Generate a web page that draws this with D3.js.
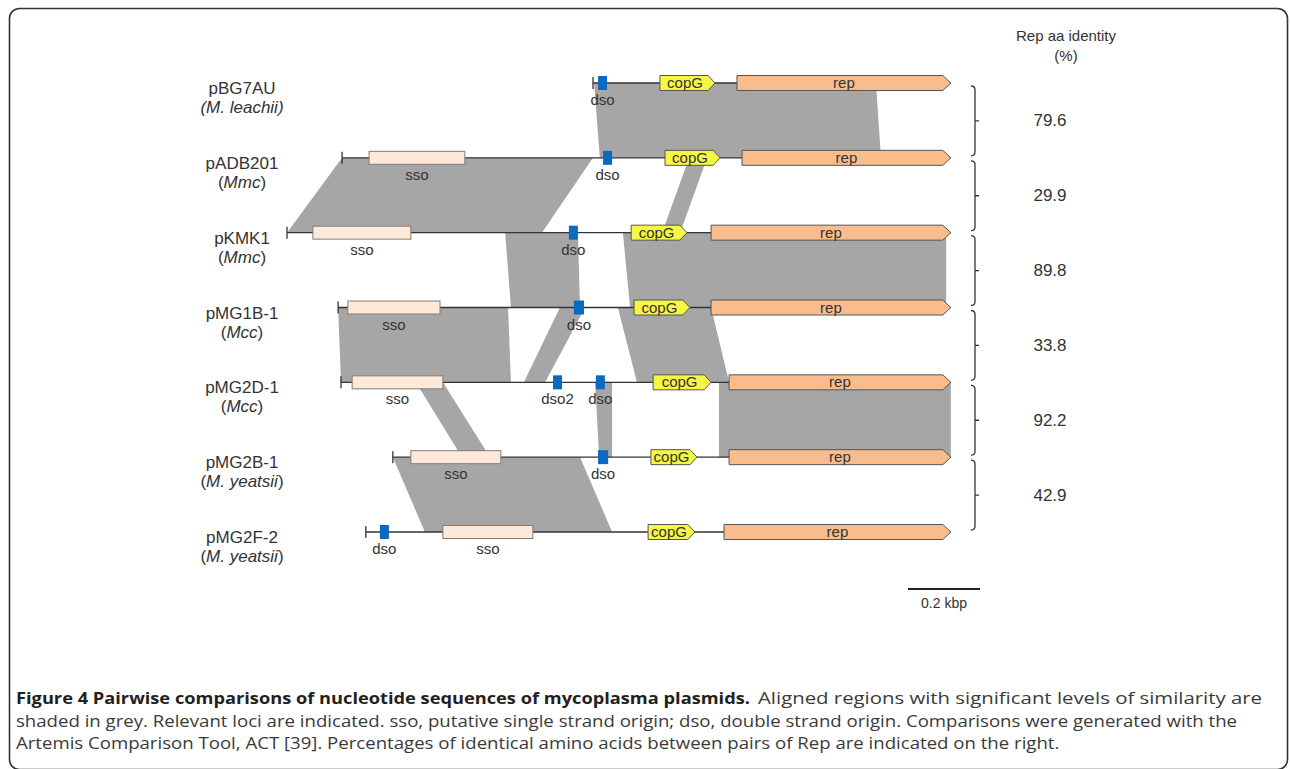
<!DOCTYPE html>
<html>
<head>
<meta charset="utf-8">
<script src="https://cdn.jsdelivr.net/npm/d3@7"></script>
<style>
  html, body { margin: 0; padding: 0; background: #fff; }
  svg { display: block; }
</style>
</head>
<body>
<svg id="chart" width="1290" height="769"></svg>
<script>
// ---------------- DATA (positions in bp) ----------------
const plasmids = ["pBG7AU", "pADB201", "pKMK1", "pMG1B-1", "pMG2D-1", "pMG2B-1", "pMG2F-2"];
const species  = ["M. leachii", "Mmc", "Mmc", "Mcc", "Mcc", "M. yeatsii", "M. yeatsii"];
const trackStart = [850, 153, 0, 142, 150, 294, 219];
const trackEnd   = [1844, 1844, 1844, 1844, 1844, 1844, 1844];
const ssoLoci  = [null, [228, 494], [72, 344], [169, 425], [181, 433], [344, 594], [433, 683]];
const dsoLoci  = [[864, 889], [878, 903], [783, 808], [797, 825], [858, 883], [864, 892], [258, 283]];
const dso2Loci = [null, null, null, null, [739, 764], null, null];
const copGLoci = [[1036, 1189], [1050, 1203], [956, 1111], [964, 1119], [1017, 1178], [1011, 1139], [1003, 1133]];
const repLoci  = [[1250, 1844], [1264, 1844], [1178, 1844], [1178, 1844], [1228, 1844], [1228, 1844], [1214, 1844]];
// aligned regions: [upper track index, upperStart, upperEnd, lowerStart, lowerEnd]
const alignments = [
  [0, 853, 1636, 869, 1650],
  [1, 153, 850, 0, 708],
  [1, 1117, 1167, 1042, 1092],
  [2, 606, 808, 622, 814],
  [2, 933, 1831, 953, 1831],
  [3, 142, 614, 150, 622],
  [3, 758, 828, 658, 717],
  [3, 919, 1178, 972, 1228],
  [4, 358, 433, 486, 564],
  [4, 856, 903, 867, 903],
  [4, 1200, 1844, 1200, 1844],
  [5, 294, 814, 383, 903]
];
const repIdentity = [79.6, 29.9, 89.8, 33.8, 92.2, 42.9];
const scaleBarBp = [1725, 1925];
const scaleBarLabel = "0.2 kbp";
const identityTitle = ["Rep aa identity", "(%)"];
const captionBold = "Figure 4 Pairwise comparisons of nucleotide sequences of mycoplasma plasmids.";
const captionLines = [
  "Aligned regions with significant levels of similarity are",
  "shaded in grey. Relevant loci are indicated. sso, putative single strand origin; dso, double strand origin. Comparisons were generated with the",
  "Artemis Comparison Tool, ACT [39]. Percentages of identical amino acids between pairs of Rep are indicated on the right."
];

// ---------------- DRAW ----------------
const svg = d3.select("#chart");
const FONT = "'Liberation Sans', Arial, sans-serif";
const CAPFONT = "'Open Sans', 'Noto Sans', sans-serif";

const x = d3.scaleLinear().domain([0, 1850]).range([287, 287 + 1850 * 0.36]);
const y = d3.scalePoint().domain(d3.range(plasmids.length)).range([83, 532]);

// frame
svg.append("rect")
  .attr("x", 9.5).attr("y", 8.5).attr("width", 1278).attr("height", 761)
  .attr("rx", 10).attr("ry", 10)
  .attr("fill", "none").attr("stroke", "#333").attr("stroke-width", 1.6);

// aligned regions
svg.append("g").selectAll("path").data(alignments).join("path")
  .attr("d", a => {
    const y0 = y(a[0]), y1 = y(a[0] + 1);
    return `M${x(a[1])},${y0}L${x(a[2])},${y0}L${x(a[4])},${y1}L${x(a[3])},${y1}Z`;
  })
  .attr("fill", "#a6a6a6");

// tracks
const tracks = svg.append("g").selectAll("g").data(plasmids).join("g")
  .attr("transform", (d, i) => `translate(0,${y(i)})`);

tracks.append("line")
  .attr("x1", (d, i) => x(trackStart[i])).attr("x2", (d, i) => x(trackEnd[i]))
  .attr("y1", 0).attr("y2", 0).attr("stroke", "#333").attr("stroke-width", 1.3);
tracks.append("line")
  .attr("x1", (d, i) => x(trackStart[i])).attr("x2", (d, i) => x(trackStart[i]))
  .attr("y1", -6).attr("y2", 6).attr("stroke", "#333").attr("stroke-width", 1.3);

// names
tracks.append("text")
  .attr("x", 242).attr("y", 11).attr("text-anchor", "middle")
  .attr("font-family", FONT).attr("font-size", 17).attr("fill", "#333")
  .text(d => d);
tracks.append("text")
  .attr("x", 242).attr("y", 30).attr("text-anchor", "middle")
  .attr("font-family", FONT).attr("font-size", 17).attr("fill", "#333")
  .each(function (d, i) {
    const t = d3.select(this);
    const italicAll = i === 0;
    t.append("tspan").attr("font-style", italicAll ? "italic" : "normal").text("(");
    t.append("tspan").attr("font-style", "italic").text(species[i]);
    t.append("tspan").attr("font-style", italicAll ? "italic" : "normal").text(")");
  });

function arrow(x0, x1, h, tip) {
  return `M${x0},${-h / 2}L${x1 - tip},${-h / 2}L${x1},0L${x1 - tip},${h / 2}L${x0},${h / 2}Z`;
}

// sso
tracks.filter((d, i) => ssoLoci[i]).each(function (d) {
  const i = plasmids.indexOf(d);
  const g = d3.select(this);
  const [s, e] = ssoLoci[i];
  g.append("rect").attr("x", x(s)).attr("y", -6.5).attr("width", x(e) - x(s)).attr("height", 13)
    .attr("fill", "#fde9d9").attr("stroke", "#8a7a70").attr("stroke-width", 1);
  g.append("text").attr("x", (x(s) + x(e)) / 2).attr("y", 22).attr("text-anchor", "middle")
    .attr("font-family", FONT).attr("font-size", 15).attr("fill", "#333").text("sso");
});

// dso / dso2
function drawOri(loci, label) {
  tracks.filter((d, i) => loci[i]).each(function (d) {
    const i = plasmids.indexOf(d);
    const g = d3.select(this);
    const [s, e] = loci[i];
    g.append("rect").attr("x", x(s)).attr("y", -7).attr("width", x(e) - x(s)).attr("height", 14)
      .attr("fill", "#0a6ac2");
    g.append("text").attr("x", (x(s) + x(e)) / 2).attr("y", 22).attr("text-anchor", "middle")
      .attr("font-family", FONT).attr("font-size", 15).attr("fill", "#333").text(label);
  });
}
drawOri(dsoLoci, "dso");
drawOri(dso2Loci, "dso2");

// copG
tracks.append("path")
  .attr("d", (d, i) => arrow(x(copGLoci[i][0]), x(copGLoci[i][1]), 15, 7))
  .attr("fill", "#f6f643").attr("stroke", "#555").attr("stroke-width", 1);
tracks.append("text")
  .attr("x", (d, i) => (x(copGLoci[i][0]) + x(copGLoci[i][1]) - 5) / 2).attr("y", 5)
  .attr("text-anchor", "middle").attr("font-family", FONT).attr("font-size", 15).attr("fill", "#333")
  .text("copG");

// rep
tracks.append("path")
  .attr("d", (d, i) => arrow(x(repLoci[i][0]), x(repLoci[i][1]), 15, 8))
  .attr("fill", "#f9bd8d").attr("stroke", "#555").attr("stroke-width", 1);
tracks.append("text")
  .attr("x", (d, i) => (x(repLoci[i][0]) + x(repLoci[i][1])) / 2).attr("y", 5)
  .attr("text-anchor", "middle").attr("font-family", FONT).attr("font-size", 15).attr("fill", "#333")
  .text("rep");

// identity brackets
const bx = 975;
const br = svg.append("g").selectAll("g").data(repIdentity).join("g");
br.append("path")
  .attr("d", (d, i) => {
    const t = y(i) + 3, b = y(i + 1) - 2, m = (t + b) / 2;
    return `M${bx - 4},${t}Q${bx},${t} ${bx},${t + 4}L${bx},${b - 4}Q${bx},${b} ${bx - 4},${b}M${bx},${m}L${bx + 4},${m}`;
  })
  .attr("fill", "none").attr("stroke", "#333").attr("stroke-width", 1.3);
br.append("text")
  .attr("x", 1050).attr("y", (d, i) => (y(i) + y(i + 1)) / 2 + 6)
  .attr("text-anchor", "middle").attr("font-family", FONT).attr("font-size", 17).attr("fill", "#333")
  .text(d => d.toFixed(1));

svg.append("g").selectAll("text").data(identityTitle).join("text")
  .attr("x", 1066).attr("y", (d, i) => 41 + i * 20).attr("text-anchor", "middle")
  .attr("font-family", FONT).attr("font-size", 15).attr("fill", "#333").text(d => d);

// scale bar
svg.append("line").attr("x1", x(scaleBarBp[0])).attr("x2", x(scaleBarBp[1]))
  .attr("y1", 589).attr("y2", 589).attr("stroke", "#222").attr("stroke-width", 2);
svg.append("text").attr("x", (x(scaleBarBp[0]) + x(scaleBarBp[1])) / 2).attr("y", 608)
  .attr("text-anchor", "middle").attr("font-family", FONT).attr("font-size", 14).attr("fill", "#333")
  .text(scaleBarLabel);

// caption: font horizontally widened to match the reference
const cap = svg.append("g").attr("font-family", CAPFONT).attr("font-size", 16);
const bold = cap.append("text").attr("x", 16).attr("y", 704).attr("font-weight", "bold").attr("fill", "#231f20")
  .text(captionBold);
bold.attr("textLength", 734).attr("lengthAdjust", "spacingAndGlyphs");
const l1x = 16 + 734 + 8;
cap.append("text").attr("x", l1x).attr("y", 704).attr("fill", "#3a3a3a")
  .attr("textLength", 1262 - l1x).attr("lengthAdjust", "spacingAndGlyphs").text(captionLines[0]);
const line2 = cap.append("text").attr("x", 16).attr("y", 727).attr("fill", "#3a3a3a").text(captionLines[1]);
const line3 = cap.append("text").attr("x", 16).attr("y", 749).attr("fill", "#3a3a3a").text(captionLines[2]);
const k = 1221 / line2.node().getComputedTextLength();
line2.attr("textLength", 1221).attr("lengthAdjust", "spacingAndGlyphs");
line3.attr("textLength", line3.node().getComputedTextLength() * k).attr("lengthAdjust", "spacingAndGlyphs");
</script>
</body>
</html>
